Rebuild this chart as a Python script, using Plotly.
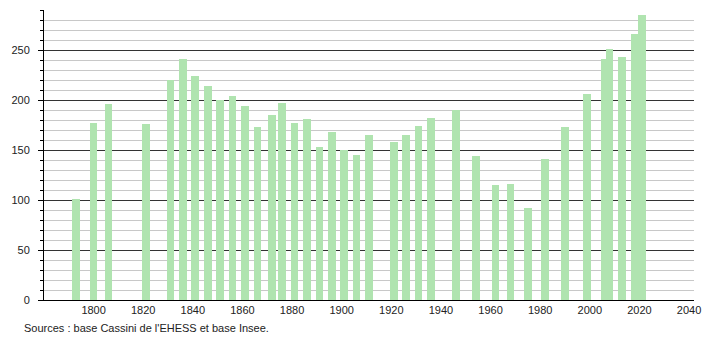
import plotly.graph_objects as go

years = [1793, 1800, 1806, 1821, 1831, 1836, 1841, 1846, 1851, 1856, 1861, 1866,
         1872, 1876, 1881, 1886, 1891, 1896, 1901, 1906, 1911, 1921, 1926, 1931,
         1936, 1946, 1954, 1962, 1968, 1975, 1982, 1990, 1999, 2006, 2008, 2013,
         2018, 2021]
population = [101, 177, 196, 176, 220, 241, 224, 214, 200, 204, 194, 173,
              185, 197, 177, 181, 153, 168, 150, 145, 165, 158, 165, 174,
              182, 190, 144, 115, 116, 92, 141, 173, 206, 241, 251, 243,
              266, 285]
x_ticks = [1800, 1820, 1840, 1860, 1880, 1900, 1920, 1940, 1960, 1980, 2000, 2020, 2040]
source_text = "Sources : base Cassini de l'EHESS et base Insee."

fig = go.Figure()
fig.add_trace(go.Bar(
    x=years, y=population, width=3.1,
    marker=dict(color="#b0e4b0", line=dict(width=0)),
    hoverinfo="x+y",
))

fig.update_layout(
    width=710, height=340,
    margin=dict(l=44, r=9, t=10, b=40),
    paper_bgcolor="white", plot_bgcolor="white",
    showlegend=False,
    font=dict(family="Liberation Sans, Arial, sans-serif", size=11, color="#222"),
    bargap=0,
)
fig.update_xaxes(
    range=[1780, 2042], tickvals=x_ticks, ticktext=[str(t) for t in x_ticks],
    showgrid=False, zeroline=False, showline=True, linecolor="black", linewidth=1,
    ticks="", tickfont=dict(size=11),
)
fig.update_yaxes(
    range=[0, 290], dtick=50, tick0=0,
    showgrid=True, gridcolor="#333333", gridwidth=1,
    zeroline=False, showline=True, linecolor="black", linewidth=1,
    ticks="outside", ticklen=5, tickcolor="black", tickwidth=1,
    ticklabelstandoff=6,
    minor=dict(dtick=10, showgrid=True, gridcolor="#c8c8c8", gridwidth=1,
               ticks="outside", ticklen=3, tickcolor="black"),
    tickfont=dict(size=11),
)
fig.add_annotation(
    text=source_text, xref="paper", yref="paper",
    x=(22 - 44) / 657, y=(300 - 328) / 290, xanchor="left", yanchor="middle",
    showarrow=False, font=dict(size=11, color="#222"),
)
fig.write_html("out.html")
